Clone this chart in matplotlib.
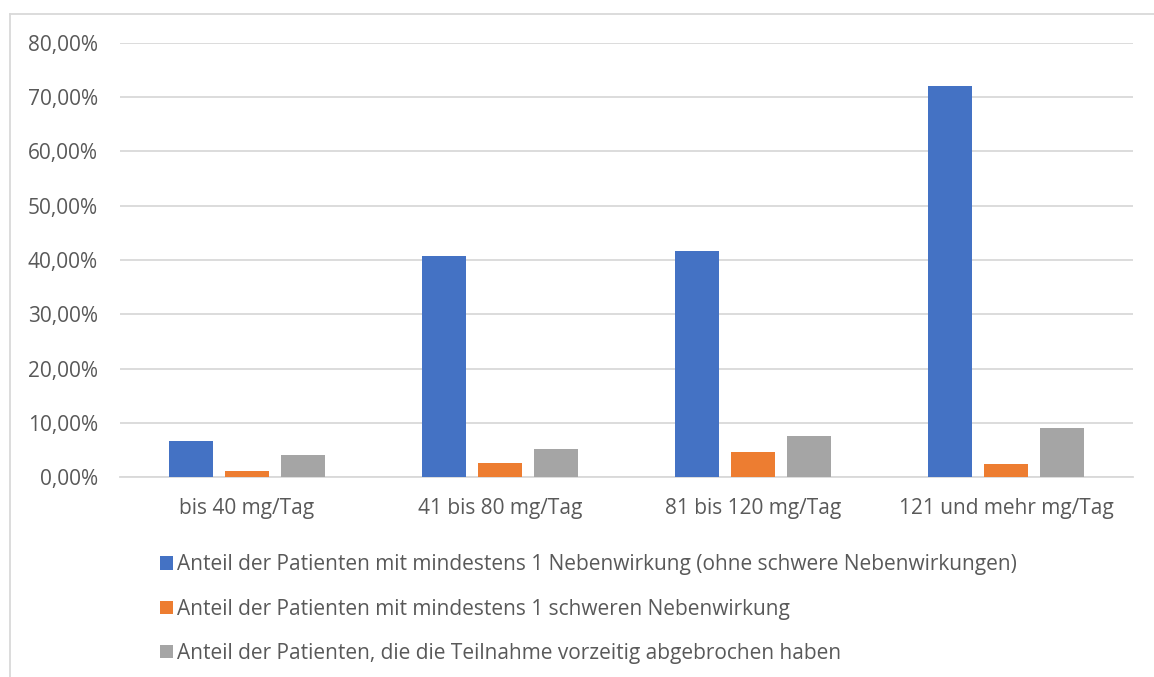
import matplotlib.pyplot as plt
import numpy as np
from matplotlib.lines import Line2D
from matplotlib.ticker import FuncFormatter

plt.rcParams['font.family'] = ['Open Sans', 'DejaVu Sans']

categories = ['bis 40 mg/Tag', '41 bis 80 mg/Tag', '81 bis 120 mg/Tag', '121 und mehr mg/Tag']
series_names = [
    'Anteil der Patienten mit mindestens 1 Nebenwirkung (ohne schwere Nebenwirkungen)',
    'Anteil der Patienten mit mindestens 1 schweren Nebenwirkung',
    'Anteil der Patienten, die die Teilnahme vorzeitig abgebrochen haben',
]
nebenwirkung = [6.7, 40.65, 41.7, 72.0]
schwer = [1.1, 2.5, 4.7, 2.35]
abgebrochen = [4.1, 5.2, 7.5, 9.0]
colors = ['#4472c4', '#ed7d31', '#a5a5a5']

text_col = '#595959'
grid_col = '#d9d9d9'
fs = 15

fig = plt.figure(figsize=(11.54, 6.77), dpi=100)
W, H = 1154, 677
ax = fig.add_axes([120 / W, 1 - 477 / H, (1133 - 120) / W, (477 - 43) / H])

x = np.arange(len(categories))
width = 0.174
step = 0.221
for i, (vals, name) in enumerate(zip([nebenwirkung, schwer, abgebrochen], series_names)):
    ax.bar(x + (i - 1) * step, vals, width, color=colors[i], label=name, zorder=3)

ax.set_xlim(-0.5, len(categories) - 0.5)
ax.set_ylim(0, 80)
ax.set_yticks(np.arange(0, 81, 10))
ax.yaxis.set_major_formatter(FuncFormatter(lambda v, p: f'{v:.2f}%'.replace('.', ',')))
ax.set_xticks(x)
ax.set_xticklabels(categories)
ax.tick_params(axis='both', length=0, labelsize=fs, colors=text_col)
ax.tick_params(axis='y', pad=16)
ax.tick_params(axis='x', pad=15)
ax.grid(axis='y', color=grid_col, linewidth=1.3, zorder=0)
for s in ['top', 'right', 'left']:
    ax.spines[s].set_visible(False)
ax.spines['bottom'].set_color(grid_col)
ax.spines['bottom'].set_linewidth(1.3)

# chart frame: top and left edge
fx, fy = 9.5 / W, 1 - 14 / H
fig.add_artist(Line2D([fx, 1.0], [fy, fy], color=grid_col, linewidth=1.3))
fig.add_artist(Line2D([fx, fx], [0, fy], color=grid_col, linewidth=1.3))

fig.legend(loc='upper left', bbox_to_anchor=(152 / W, 1 - 546 / H), frameon=False,
           fontsize=fs, labelcolor=text_col, handlelength=0.6, handleheight=0.6,
           handletextpad=0.2, labelspacing=1.12, borderaxespad=0)

fig.savefig('out.png', dpi=100)
